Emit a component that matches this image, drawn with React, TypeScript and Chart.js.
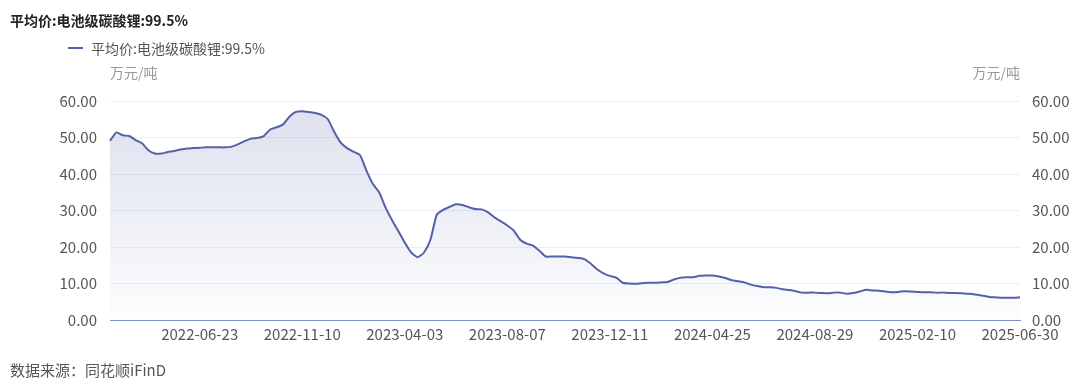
import React, { useEffect, useRef } from "react";
import { Chart, registerables } from "chart.js";

Chart.register(...registerables);

const seriesName = "平均价:电池级碳酸锂:99.5%";
const unitLabel = "万元/吨";
const sourceText = "数据来源：同花顺iFinD";

const tickDates = [
  "2022-06-23",
  "2022-11-10",
  "2023-04-03",
  "2023-08-07",
  "2023-12-11",
  "2024-04-25",
  "2024-08-29",
  "2025-02-10",
  "2025-06-30",
];
const firstTickIndex = 14;
const tickStep = 16;

const yTicks = [0, 10, 20, 30, 40, 50, 60];

const prices = [
  49.1, 51.4, 50.6, 50.4, 49.3, 48.4, 46.5, 45.6, 45.6, 46.0,
  46.3, 46.7, 47.0, 47.1, 47.2, 47.3, 47.3, 47.3, 47.3, 47.5,
  48.2, 49.0, 49.7, 49.9, 50.4, 52.2, 52.8, 53.6, 55.7, 57.0,
  57.2, 57.0, 56.7, 56.2, 55.0, 51.5, 48.6, 47.1, 46.1, 45.2,
  41.0, 37.3, 35.0, 30.8, 27.4, 24.3, 21.2, 18.5, 17.2, 18.5,
  22.0, 28.9, 30.2, 31.0, 31.7, 31.5, 30.9, 30.4, 30.3, 29.5,
  28.1, 27.0, 25.9, 24.5, 22.0, 20.9, 20.4, 19.0, 17.4, 17.4,
  17.4, 17.4, 17.2, 17.0, 16.7, 15.5, 13.9, 12.8, 12.1, 11.6,
  10.2, 10.0, 9.9, 10.1, 10.2, 10.2, 10.3, 10.4, 11.1, 11.6,
  11.7, 11.7, 12.1, 12.2, 12.2, 11.9, 11.5, 10.9, 10.6, 10.3,
  9.7, 9.3, 9.0, 9.0, 8.8, 8.4, 8.2, 7.9, 7.5, 7.5,
  7.5, 7.4, 7.3, 7.5, 7.5, 7.2, 7.4, 7.8, 8.3, 8.1,
  8.0, 7.8, 7.6, 7.7, 7.9, 7.8, 7.7, 7.6, 7.6, 7.5,
  7.5, 7.4, 7.4, 7.3, 7.2, 7.0, 6.7, 6.4, 6.2, 6.1,
  6.1, 6.1, 6.2,
];

const categories = prices.map((_, i) => {
  const k = (i - firstTickIndex) / tickStep;
  return Number.isInteger(k) && k >= 0 && k < tickDates.length ? tickDates[k] : "";
});

const LINE_COLOR = "#5461a8";
const FONT = "'Noto Sans CJK SC', 'Noto Sans', sans-serif";

export default function App() {
  const canvasRef = useRef<HTMLCanvasElement | null>(null);

  useEffect(() => {
    if (!canvasRef.current) return;
    const chart = new Chart(canvasRef.current, {
      type: "line",
      data: {
        labels: categories,
        datasets: [
          {
            label: seriesName,
            data: prices,
            borderColor: LINE_COLOR,
            borderWidth: 2,
            pointRadius: 0,
            tension: 0.2,
            fill: "origin",
            yAxisID: "y",
            backgroundColor: (ctx: any) => {
              const { chart } = ctx;
              const area = chart.chartArea;
              if (!area) return "rgba(84,97,168,0.1)";
              const g = chart.ctx.createLinearGradient(0, area.top, 0, area.bottom);
              g.addColorStop(0, "rgba(84,97,168,0.2)");
              g.addColorStop(1, "rgba(84,97,168,0.01)");
              return g;
            },
          },
        ],
      },
      options: {
        animation: false,
        responsive: true,
        maintainAspectRatio: false,
        layout: { padding: { top: 101, left: 0, right: 0, bottom: 0 } },
        plugins: {
          legend: { display: false },
          title: { display: false },
          tooltip: { enabled: false },
        },
        scales: {
          x: {
            type: "category",
            offset: false,
            grid: { display: false, drawTicks: false },
            border: { display: true, color: "#8390c8", width: 1 },
            ticks: {
              autoSkip: false,
              maxRotation: 0,
              minRotation: 0,
              padding: 5,
              color: "#555",
              font: { family: FONT, size: 15 },
            },
            afterFit: (s: any) => {
              s.height = 66;
            },
          },
          y: {
            position: "left",
            min: 0,
            max: 60,
            afterBuildTicks: (s: any) => {
              s.ticks = yTicks.map((v) => ({ value: v }));
            },
            grid: { color: "#eceef6", drawTicks: false },
            border: { display: false },
            ticks: {
              padding: 13,
              color: "#555",
              font: { family: FONT, size: 15 },
              callback: (v: any) => Number(v).toFixed(2),
            },
            afterFit: (s: any) => {
              s.width = 110;
            },
          },
          y2: {
            position: "right",
            min: 0,
            max: 60,
            afterBuildTicks: (s: any) => {
              s.ticks = yTicks.map((v) => ({ value: v }));
            },
            grid: { drawOnChartArea: false, drawTicks: false },
            border: { display: false },
            ticks: {
              padding: 12,
              color: "#555",
              font: { family: FONT, size: 15 },
              callback: (v: any) => Number(v).toFixed(2),
            },
            afterFit: (s: any) => {
              s.width = 60;
            },
          },
        },
      },
    });
    return () => chart.destroy();
  }, []);

  const textBase: React.CSSProperties = {
    position: "absolute",
    fontFamily: FONT,
    whiteSpace: "nowrap",
    lineHeight: "1",
  };

  return (
    <div
      style={{
        position: "fixed",
        left: 0,
        top: 0,
        width: 1080,
        height: 386,
        background: "#fff",
        overflow: "hidden",
      }}
    >
      <div style={{ position: "absolute", left: 0, top: 0, width: 1080, height: 386 }}>
        <canvas ref={canvasRef} />
      </div>
      <div style={{ ...textBase, left: 10, top: 13, fontSize: 14, fontWeight: 700, color: "#222" }}>
        {seriesName}
      </div>
      <div style={{ ...textBase, left: 68, top: 41, fontSize: 14, color: "#555", display: "flex", alignItems: "center" }}>
        <span style={{ display: "inline-block", width: 15, height: 2, background: LINE_COLOR, marginRight: 8 }} />
        <span>{seriesName}</span>
      </div>
      <div style={{ ...textBase, left: 110, top: 65, fontSize: 14, color: "#999" }}>{unitLabel}</div>
      <div style={{ ...textBase, right: 60, top: 65, fontSize: 14, color: "#999" }}>{unitLabel}</div>
      <div style={{ ...textBase, left: 10, top: 362, fontSize: 15, color: "#555" }}>{sourceText}</div>
    </div>
  );
}
